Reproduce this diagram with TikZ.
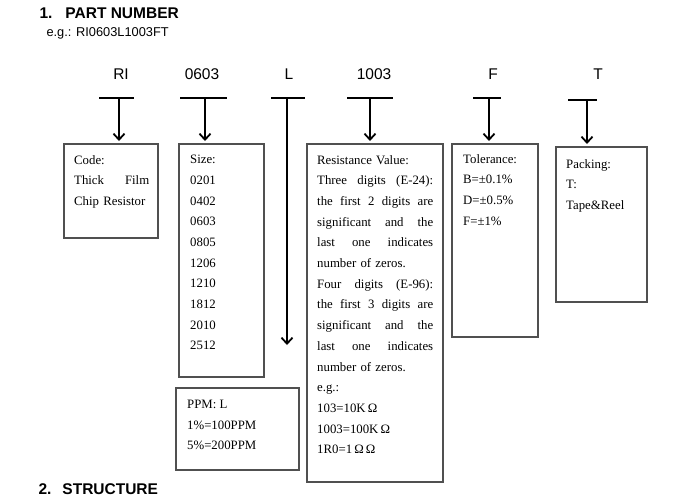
\documentclass[tikz,border=0pt]{standalone}
\usepackage{fontspec}
\setmainfont{Liberation Serif}
\setsansfont{Liberation Sans}
\usepackage{tikz}
\usetikzlibrary{arrows.meta, positioning}
\definecolor{boxgray}{HTML}{505050}
\setlength{\parindent}{0pt}

\begin{document}
\begin{tikzpicture}[x=1pt, y=-1pt,
        box/.style={draw=boxgray, line width=1.2pt, anchor=north west,
                    inner sep=0pt, outer sep=0pt},
        txt/.style={inner sep=0pt, align=left,
                    font=\fontsize{12.8}{20.7}\selectfont},
        lbl/.style={font=\sffamily\fontsize{15.5}{18}\selectfont},
        head/.style={anchor=west, font=\sffamily\bfseries\fontsize{15.5}{18}\selectfont},
        bar/.style={line width=1.8pt},
        arr/.style={line width=1.8pt, shorten >=3pt,
                    -{Straight Barb[length=6pt, width=11pt, line width=1.8pt]}},
    ]
    \useasboundingbox (0,0) rectangle (690,501);

    % Headings
    \node[head] (title) at (36,13) {1.\hspace{13pt}PART NUMBER};
    \node[anchor=west, font=\sffamily\fontsize{12.8}{15}\selectfont] (eg) at (43,33) {e.g.: RI0603L1003FT};
    \node[head] (struct) at (35,489) {2.\hspace{11pt}STRUCTURE};

    % Part number fields
    \node[lbl] (lRI)   at (121,74) {RI};
    \node[lbl] (l0603) at (202,74) {0603};
    \node[lbl] (lL)    at (289,74) {L};
    \node[lbl] (l1003) at (374,74) {1003};
    \node[lbl] (lF)    at (493,74) {F};
    \node[lbl] (lT)    at (598,74) {T};

    \coordinate (bRI)   at (119,98);
    \coordinate (b0603) at (205,98);
    \coordinate (bL)    at (287,98);
    \coordinate (b1003) at (370,98);
    \coordinate (bF)    at (489,98);
    \coordinate (bT)    at (587,100);
    \coordinate (tipL)  at (287,348);

    \draw[bar] ([xshift=-20pt]bRI)   -- ([xshift=15pt]bRI);
    \draw[bar] ([xshift=-25pt]b0603) -- ([xshift=22pt]b0603);
    \draw[bar] ([xshift=-16pt]bL)    -- ([xshift=18pt]bL);
    \draw[bar] ([xshift=-23pt]b1003) -- ([xshift=23pt]b1003);
    \draw[bar] ([xshift=-16pt]bF)    -- ([xshift=12pt]bF);
    \draw[bar] ([xshift=-19pt]bT)    -- ([xshift=10pt]bT);

    % Boxes
    \node[box, minimum width=94pt,  minimum height=94pt]  (code) at (64,144)  {};
    \node[box, minimum width=85pt,  minimum height=233pt] (size) at (179,144) {};
    \node[box, minimum width=136pt, minimum height=338pt] (res)  at (307,144) {};
    \node[box, minimum width=86pt,  minimum height=193pt] (tol)  at (452,144) {};
    \node[box, minimum width=91pt,  minimum height=155pt] (pack) at (556,147) {};
    \node[box, minimum width=123pt, minimum height=82pt]  (ppm)  at (176,388) {};

    \draw[arr] (bRI)   -- (bRI |- code.north);
    \draw[arr] (b0603) -- (b0603 |- size.north);
    \draw[arr] (bL)    -- (tipL);
    \draw[arr] (b1003) -- (b1003 |- res.north);
    \draw[arr] (bF)    -- (bF |- tol.north);
    \draw[arr] (bT)    -- (bT |- pack.north);

    % Box texts
    \node[txt, text width=75pt, below right=11pt and 10pt of code.north west] (codetxt)
        {Code:\\ Thick\hfill Film\\ Chip Resistor};
    \node[txt, below right=11pt and 11pt of size.north west] (sizetxt)
        {Size:\\ 0201\\ 0402\\ 0603\\ 0805\\ 1206\\ 1210\\ 1812\\ 2010\\ 2512};
    \node[txt, text width=116pt, below right=11pt and 10pt of res.north west] (restxt)
        {Resistance Value:\\
         Three\hfill digits\hfill (E-24):\\
         the\hfill first\hfill 2\hfill digits\hfill are\\
         significant\hfill and\hfill the\\
         last\hfill one\hfill indicates\\
         number of zeros.\\
         Four\hfill digits\hfill (E-96):\\
         the\hfill first\hfill 3\hfill digits\hfill are\\
         significant\hfill and\hfill the\\
         last\hfill one\hfill indicates\\
         number of zeros.\\
         e.g.:\\
         103=10K\,Ω\\
         1003=100K\,Ω\\
         1R0=1\,Ω\,Ω};
    \node[txt, below right=10pt and 11pt of tol.north west] (toltxt)
        {Tolerance:\\ B=±0.1\%\\ D=±0.5\%\\ F=±1\%};
    \node[txt, below right=12pt and 10pt of pack.north west] (packtxt)
        {Packing:\\ T:\\ Tape\&Reel};
    \node[txt, below right=12pt and 11pt of ppm.north west] (ppmtxt)
        {PPM: L\\ 1\%=100PPM\\ 5\%=200PPM};
\end{tikzpicture}
\end{document}
